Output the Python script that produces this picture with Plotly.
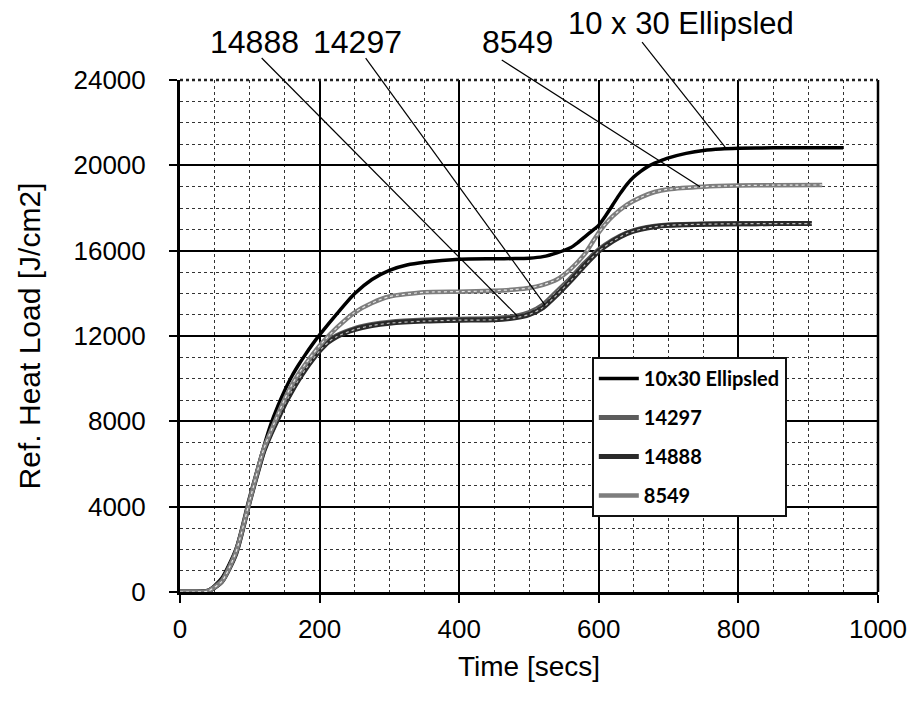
import plotly.graph_objects as go

# ---- data ----
t_ell = [0, 20, 40, 60, 80, 100, 110, 120, 130, 140, 150, 160, 170, 180, 190, 200, 225, 250, 275, 300, 325, 350, 400, 450, 480, 500,
         520, 540, 560, 570, 580, 590, 600, 610, 620, 630, 640, 650, 660, 670, 680, 690, 700, 725, 750, 775, 800, 850, 900, 950]
v_ell = [0, 0, 60, 650, 2000, 4300, 5600, 6800, 7850, 8700, 9450, 10100, 10650, 11150, 11620, 12050, 13050, 13980, 14650, 15080, 15330, 15460, 15600, 15620, 15630, 15650,
         15720, 15900, 16150, 16380, 16650, 16920, 17200, 17650, 18150, 18650, 19100, 19450, 19720, 19940, 20100, 20230, 20350, 20560, 20700, 20770, 20800, 20820, 20830, 20830]

t_14297 = [0, 20, 40, 60, 80, 100, 120, 130, 140, 150, 160, 170, 180, 190, 200, 212, 225, 250, 275, 300, 350, 400, 450, 480, 500,
           520, 540, 560, 580, 600, 620, 640, 660, 680, 700, 750, 800, 850, 905]
v_14297 = [0, 0, 45, 520, 1850, 4350, 6650, 7450, 8150, 8850, 9450, 10000, 10500, 10950, 11350, 11750, 12030, 12350, 12540, 12650, 12750, 12790, 12820, 12920, 13100,
           13450, 14080, 14720, 15420, 16040, 16490, 16830, 17030, 17140, 17200, 17250, 17260, 17270, 17270]

t_14888 = [0, 20, 40, 60, 80, 100, 120, 130, 140, 150, 160, 170, 180, 190, 200, 212, 225, 250, 275, 300, 350, 400, 450, 480, 500,
           520, 540, 560, 580, 600, 620, 640, 660, 680, 700, 750, 800, 850, 905]
v_14888 = [0, 0, 40, 500, 1800, 4300, 6600, 7400, 8100, 8800, 9400, 9950, 10450, 10900, 11300, 11700, 11980, 12300, 12490, 12600, 12700, 12740, 12760, 12850, 13000,
           13330, 13930, 14600, 15320, 15980, 16450, 16800, 17000, 17120, 17190, 17240, 17260, 17270, 17270]

t_8549 = [0, 20, 40, 60, 80, 100, 120, 140, 150, 160, 170, 180, 200, 225, 250, 275, 300, 350, 400, 450, 480, 500,
          520, 540, 560, 580, 590, 600, 610, 620, 640, 660, 680, 700, 750, 800, 850, 920]
v_8549 = [0, 0, 40, 500, 1850, 4300, 6700, 8300, 9050, 9700, 10230, 10700, 11550, 12400, 13100, 13550, 13850, 14050, 14080, 14120, 14180, 14250,
          14400, 14650, 15150, 15850, 16350, 16850, 17270, 17620, 18150, 18500, 18750, 18880, 19000, 19050, 19070, 19080]

x_ticks = [0, 200, 400, 600, 800, 1000]
y_ticks = [0, 4000, 8000, 12000, 16000, 20000, 24000]
x_range = [0, 1000]
y_range = [0, 24000]

series = [
    ("10x30 Ellipsled", t_ell, v_ell, "black", 3.5, None),
    ("14297", t_14297, v_14297, "#5c5c5c", 5, "#d8d8d8"),
    ("14888", t_14888, v_14888, "#2a2a2a", 5, "#bdbdbd"),
    ("8549", t_8549, v_8549, "#7d7d7d", 4.5, "#e6e6e6"),
]

fig = go.Figure()
for name, t, v, col, w, tex in series:
    fig.add_trace(go.Scatter(x=t, y=v, mode="lines", name=name, legendgroup=name,
                             line=dict(color=col, width=w, shape="spline", smoothing=0.6)))
    if tex:
        fig.add_trace(go.Scatter(x=t, y=v, mode="lines", name=name, legendgroup=name, showlegend=False,
                                 hoverinfo="skip",
                                 line=dict(color=tex, width=1.2, dash="dot", shape="spline", smoothing=0.6)))

tick_font = dict(family="Liberation Sans, Arial", size=26, color="black")
title_font = dict(family="Liberation Sans, Arial", size=30, color="black")

fig.update_xaxes(range=x_range, tickmode="array", tickvals=x_ticks, ticktext=[str(v) for v in x_ticks],
                 showgrid=True, gridcolor="black", gridwidth=2,
                 minor=dict(dtick=50, tick0=0, showgrid=True, gridcolor="#333", gridwidth=1.3, griddash="dot"),
                 ticks="outside", ticklen=8, tickwidth=2, tickcolor="black",
                 showline=True, linecolor="black", linewidth=2.5, zeroline=False,
                 tickfont=tick_font, ticklabelstandoff=4,
                 title=dict(text="Time [secs]", font=dict(family="Liberation Sans, Arial", size=28, color="black"),
                            standoff=14))
fig.update_yaxes(range=y_range, tickmode="array", tickvals=y_ticks, ticktext=[str(v) for v in y_ticks],
                 showgrid=True, gridcolor="black", gridwidth=2,
                 minor=dict(dtick=1000, tick0=0, showgrid=True, gridcolor="#333", gridwidth=1.3, griddash="dot"),
                 ticks="outside", ticklen=8, tickwidth=2, tickcolor="black",
                 showline=True, linecolor="black", linewidth=3, zeroline=False,
                 tickfont=tick_font, ticklabelstandoff=18,
                 title=dict(text="Ref. Heat Load [J/cm2]", font=title_font, standoff=24))

# right border and dotted top border
fig.add_shape(type="line", xref="paper", yref="paper", x0=1, x1=1, y0=0, y1=1,
              line=dict(color="black", width=2.5))
fig.add_shape(type="line", xref="paper", yref="paper", x0=0, x1=1, y0=1, y1=1,
              line=dict(color="#222", width=2.5, dash="dot"))

# labels
labels = [
    ("14888", 0.1074, 1.074, 32),
    ("14297", 0.2536, 1.074, 32),
    ("8549", 0.484, 1.074, 32),
    ("10 x 30 Ellipsled", 0.718, 1.111, 31),
]
for txt, px, py, fs in labels:
    fig.add_annotation(text=txt, xref="paper", yref="paper", x=px, y=py, showarrow=False,
                       xanchor="center", yanchor="middle",
                       font=dict(family="Liberation Sans, Arial", size=fs, color="black"))

# leader lines: (head t, head value) on the curve, (tail t, tail value) below the label
leaders = [
    (483, 12950, 117, 25030),
    (523, 13450, 266, 25030),
    (745, 19000, 461, 24940),
    (781, 20850, 662, 25780),
]
def to_paper(t, v):
    return ((t - x_range[0]) / (x_range[1] - x_range[0]), (v - y_range[0]) / (y_range[1] - y_range[0]))

for hx, hy, tx, ty in leaders:
    x0, y0 = to_paper(tx, ty)
    x1, y1 = to_paper(hx, hy)
    fig.add_shape(type="line", xref="paper", yref="paper", x0=x0, y0=y0, x1=x1, y1=y1,
                  line=dict(color="black", width=1.2))

fig.update_layout(
    width=920, height=702, autosize=False,
    margin=dict(l=180, r=42, t=80, b=110),
    paper_bgcolor="white", plot_bgcolor="white",
    showlegend=True,
    legend=dict(x=0.590, y=0.459, xanchor="left", yanchor="top",
                bgcolor="white", bordercolor="#111", borderwidth=2,
                font=dict(family="Lato, Open Sans", size=20, color="black", weight="bold"),
                itemwidth=40, tracegroupgap=10, traceorder="grouped"),
)

fig.write_html("out.html", config={"displayModeBar": False},
               post_script="document.body.style.margin='0';")
